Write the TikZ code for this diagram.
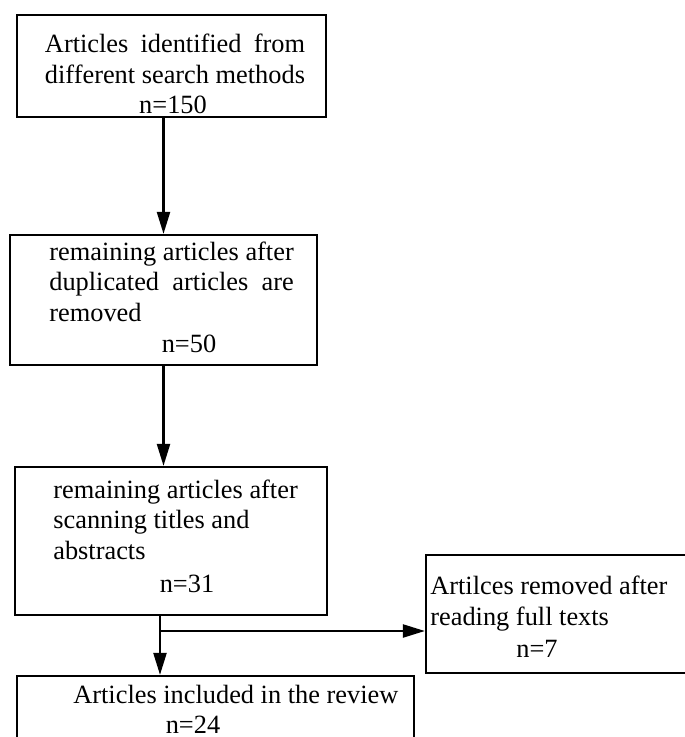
\documentclass[tikz,border=0pt]{standalone}
\usepackage{fontspec}
\setmainfont{Liberation Serif}
\usepackage{calc}
\usetikzlibrary{arrows.meta}

\tikzset{
	box/.style={draw, line width=1.3pt, inner sep=0pt},
	txt/.style={inner sep=0pt, font=\fontsize{15}{17.3}\selectfont, align=left},
	flow/.style={line width=1.3pt, -{Triangle[length=4.4mm,width=2.6mm]}}
}

\begin{document}
\begin{tikzpicture}[x=0.02cm, y=-0.02cm]
			%%%%% START %%%%%
			
			\useasboundingbox (0, 0) rectangle (684, 737);
			
			\node[box, minimum width=6.18cm, minimum height=2.04cm] (ident) at (171.5, 66) {};
			\node[box, minimum width=6.14cm, minimum height=2.60cm] (dup) at (163.5, 300) {};
			\node[box, minimum width=6.24cm, minimum height=2.96cm] (scan) at (171, 541) {};
			\node[box, minimum width=5.28cm, minimum height=2.36cm] (removed) at (558, 614) {};
			\node[box, minimum width=7.94cm, minimum height=2.28cm] (incl) at (215.5, 733) {};
			
			% multi-line texts sit on the baseline of their last line
			\node[txt, align=center, anchor=base] (identtxt) at (175, 83) {\makebox[\widthof{different search methods}][s]{Articles identified from}\\different search methods};
			\node[txt, anchor=base] (n150) at (173, 113) {n=150};
			
			\node[txt, anchor=base west] (duptxt) at (49, 321) {remaining articles after\\\makebox[\widthof{remaining articles after}][s]{duplicated articles are}\\removed};
			\node[txt, anchor=base] (n50) at (189, 352) {n=50};
			
			\node[txt, anchor=base west] (scantxt) at (53, 559) {remaining articles after\\scanning titles and\\abstracts};
			\node[txt, anchor=base] (n31) at (187, 592) {n=31};
			
			\node[txt, anchor=base west] (removedtxt) at (430, 625) {Artilces removed after\\reading full texts};
			\node[txt, anchor=base] (n7) at (537, 657) {n=7};
			
			\node[txt, anchor=base west] (incltxt) at (73, 703) {Articles included in the review};
			\node[txt, anchor=base] (n24) at (193, 733) {n=24};
			
			\draw[flow] (ident.south -| dup.north) -- (dup.north);
			\draw[flow] (dup.south) -- (dup.south |- scan.north);
			
			\coordinate (split) at (160, 631);
			\draw[flow] (scan.south -| split) -- (incl.north -| split);
			\draw[flow] (split) -- (split -| removed.west);
			
			%%%%% END %%%%%
\end{tikzpicture}
\end{document}
